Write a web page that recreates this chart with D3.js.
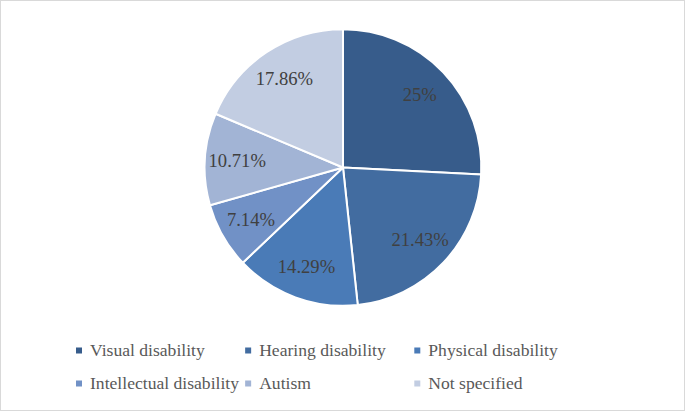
<!DOCTYPE html>
<html>
<head>
<meta charset="utf-8">
<script src="https://cdn.jsdelivr.net/npm/d3@7"></script>
<style>
  html, body { margin: 0; padding: 0; background: #ffffff; }
  svg { display: block; }
</style>
</head>
<body>
<svg id="chart" width="685" height="411"></svg>
<script>
// Categories (clockwise from 12 o'clock)
const categories = ["Visual disability", "Hearing disability", "Physical disability",
                    "Intellectual disability", "Autism", "Not specified"];
// Slice shares as drawn in the picture
const shares = [25.8, 22.5, 14.6, 7.7, 10.75, 18.65];
// Data labels printed on the slices
const labels = ["25%", "21.43%", "14.29%", "7.14%", "10.71%", "17.86%"];
const colors = ["#375c8b", "#426ca0", "#4a7bb7", "#7191c6", "#a2b4d5", "#c2cde2"];

const W = 685, H = 411;
const cx = 343, cy = 167.5, R = 138.3, labelR = 106;
const FONT = "Liberation Serif";

const svg = d3.select("#chart");

svg.append("rect")
  .attr("x", 0.5).attr("y", 0.5)
  .attr("width", W - 1).attr("height", H - 1)
  .attr("fill", "#ffffff")
  .attr("stroke", "#d9d9d9").attr("stroke-width", 1);

const pie = d3.pie().sort(null).value(d => d.v);
const data = categories.map((c, i) => ({ c, v: shares[i], lab: labels[i], col: colors[i] }));
const arcs = pie(data);

const arc = d3.arc().innerRadius(0).outerRadius(R);
const labelArc = d3.arc().innerRadius(labelR).outerRadius(labelR);

const g = svg.append("g").attr("transform", `translate(${cx},${cy})`);

g.selectAll("path.slice")
  .data(arcs)
  .join("path")
  .attr("class", "slice")
  .attr("d", arc)
  .attr("fill", d => d.data.col)
  .attr("stroke", "#ffffff")
  .attr("stroke-width", 2)
  .attr("stroke-linejoin", "round");

g.selectAll("text.lab")
  .data(arcs)
  .join("text")
  .attr("class", "lab")
  .attr("transform", d => `translate(${labelArc.centroid(d)})`)
  .attr("text-anchor", "middle")
  .attr("dy", "0.33em")
  .attr("font-family", FONT)
  .attr("font-size", 18.6)
  .attr("fill", "#404040")
  .text(d => d.data.lab);

// Legend: 3 columns x 2 rows
const colX = d3.scalePoint().domain([0, 1, 2]).range([76, 414.3]);
const rowY = d3.scalePoint().domain([0, 1]).range([350.5, 383.5]);

const leg = svg.append("g");
const items = leg.selectAll("g.item")
  .data(data)
  .join("g")
  .attr("class", "item")
  .attr("transform", (d, i) => `translate(${colX(i % 3)},${rowY(Math.floor(i / 3))})`);

items.append("rect")
  .attr("x", 0).attr("y", -3)
  .attr("width", 6).attr("height", 6)
  .attr("fill", d => d.col);

items.append("text")
  .attr("x", 14)
  .attr("dy", "0.33em")
  .attr("font-family", FONT)
  .attr("font-size", 17.6)
  .attr("fill", "#595959")
  .text(d => d.c);
</script>
</body>
</html>
